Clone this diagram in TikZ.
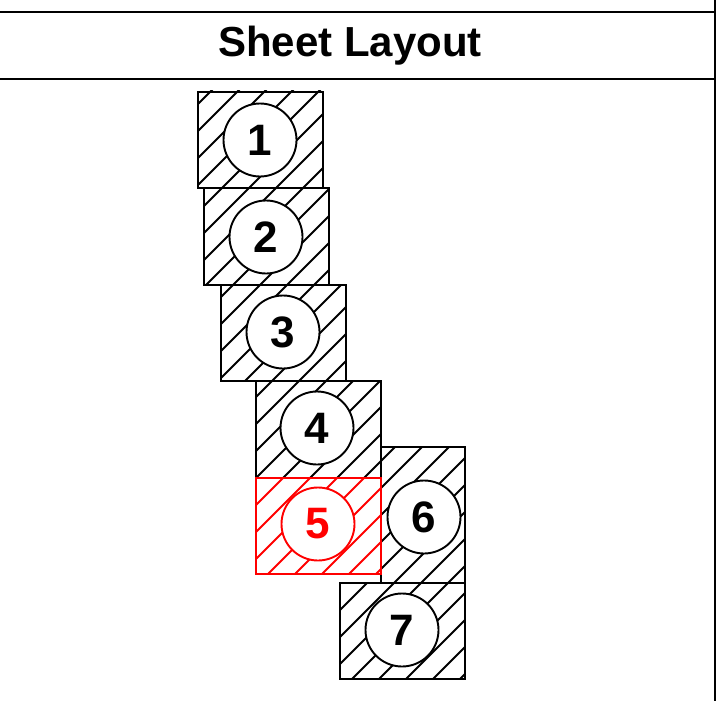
\documentclass[tikz,border=0pt]{standalone}
\usepackage{fontspec}
\setmainfont{Liberation Sans}
\begin{document}
\begin{tikzpicture}[x=1pt,y=-1pt,
  frame/.style={line width=2pt},
  sheet/.style={draw, line width=2pt, inner sep=0pt, anchor=north west},
  hatchline/.style={line width=1.9pt},
  part/.style={circle, draw, fill=white, line width=1.9pt, minimum size=73pt, inner sep=0pt, font=\fontsize{44}{44}\selectfont\bfseries},
]
\useasboundingbox (0,0) rectangle (718,701);
% frame
\draw[frame] (0,12) -- (715,12);
\draw[frame] (0,79) -- (715,79);
\draw[frame] (715,0) -- (715,701);
\node[font=\fontsize{42}{42}\selectfont\bfseries] (title) at (350,46) {Sheet Layout};
% hatched sheets: x1/y1/x2/y2/cx/cy/name/colour
\foreach \xa/\ya/\xb/\yb/\cx/\cy/\n/\col in {
  197/91/322/187/260/140/1/black,
  203/187/328/284/266/237/2/black,
  220/284/345/380/283/332/3/black,
  255/380/380/477/317/428/4/black,
  380/446/464/582/424/517/6/black,
  339/582/464/678/402/630/7/black,
  255/477/380/573/318/524/5/red}{
  \begin{scope}
    \clip (\xa,\ya) rectangle (\xb,\yb);
    \foreach \k in {0,...,48}{
      \pgfmathsetmacro\cc{5+27*\k}
      \draw[hatchline, \col] ({\cc-800},800) -- (\cc,0);
    }
  \end{scope}
  \node[sheet, draw=\col, minimum width={\xb-\xa}, minimum height={\yb-\ya}] (b\n) at (\xa,\ya) {};
  \node[part, draw=\col, text=\col] (c\n) at (\cx,\cy) {\n};
}
\end{tikzpicture}
\end{document}
